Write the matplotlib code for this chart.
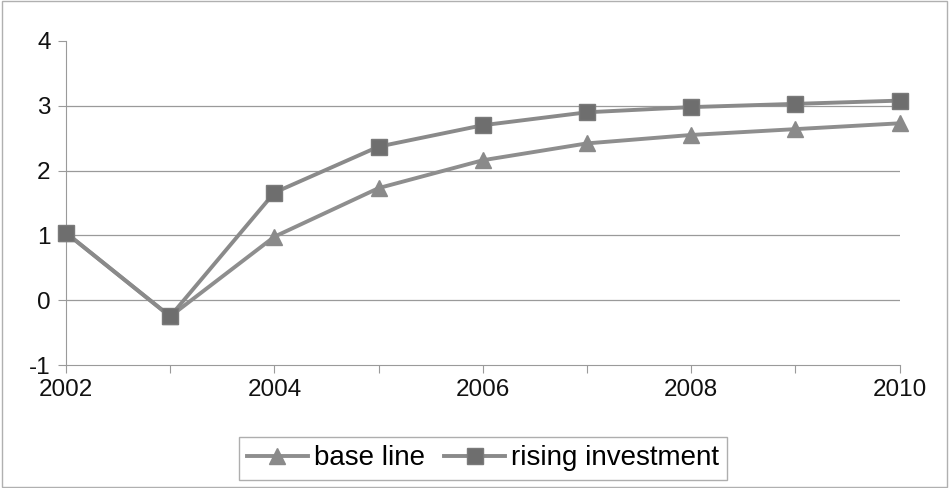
import matplotlib.pyplot as plt
import matplotlib.patches as mpatches

plt.rcParams['font.family'] = ['Liberation Sans', 'DejaVu Sans']

years = [2002, 2003, 2004, 2005, 2006, 2007, 2008, 2009, 2010]
base_line = [1.04, -0.25, 0.98, 1.73, 2.16, 2.42, 2.55, 2.64, 2.73]
rising_investment = [1.04, -0.25, 1.66, 2.37, 2.70, 2.90, 2.98, 3.03, 3.08]
year_labels = ["2002", "", "2004", "", "2006", "", "2008", "", "2010"]

fig = plt.figure(figsize=(9.49, 4.88), dpi=100)
ax = fig.add_axes([0.0695, 0.252, 0.8785, 0.664])

# thin frame round the whole chart
fig.patches.append(mpatches.Rectangle((0.002, 0.003), 0.996, 0.994, transform=fig.transFigure,
                                      fill=False, edgecolor="#b0b0b0", linewidth=1))

for y in [0, 1, 2, 3]:
    ax.axhline(y, color="#9a9a9a", linewidth=0.9, zorder=1)

ax.plot(years, base_line, color="#8e8e8e", linewidth=2.8, marker="^", markersize=11,
        markerfacecolor="#8a8a8a", markeredgecolor="#8a8a8a", label="base line",
        zorder=3, clip_on=False)
ax.plot(years, rising_investment, color="#8a8a8a", linewidth=2.8, marker="s", markersize=11,
        markerfacecolor="#6e6e6e", markeredgecolor="#7a7a7a", label="rising investment",
        zorder=4, clip_on=False)

ax.set_xlim(2002, 2010)
ax.set_ylim(-1, 4)
ax.set_xticks(years)
ax.set_xticklabels(year_labels)
ax.set_yticks([-1, 0, 1, 2, 3, 4])
ax.set_yticklabels(["-1", "0", "1", "2", "3", "4"])

for side in ["top", "right"]:
    ax.spines[side].set_visible(False)
ax.spines["left"].set_color("#9a9a9a")
ax.spines["bottom"].set_color("#9a9a9a")
ax.tick_params(axis="both", colors="#9a9a9a", labelcolor="#111111", labelsize=17.5, length=6)
ax.tick_params(axis="x", pad=4)
ax.tick_params(axis="y", pad=5)

leg = ax.legend(loc="upper center", bbox_to_anchor=(0.5, -0.222), ncol=2, fontsize=20,
                frameon=True, fancybox=False, edgecolor="#9a9a9a", handlelength=2.2,
                handletextpad=0.2, columnspacing=0.7, borderpad=0.3, borderaxespad=0)
leg.get_frame().set_linewidth(1)

fig.savefig("out.png", dpi=100)
